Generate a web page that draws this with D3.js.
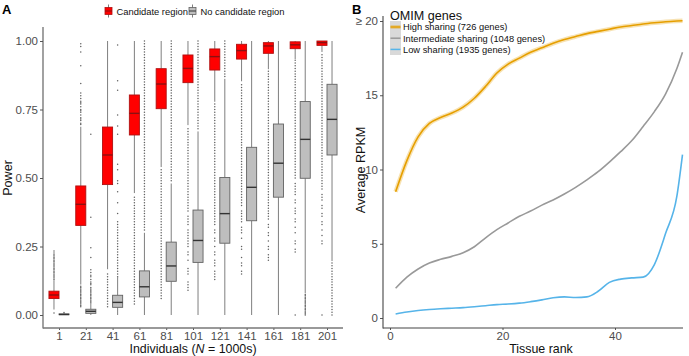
<!DOCTYPE html>
<html><head><meta charset="utf-8">
<script src="https://cdn.jsdelivr.net/npm/d3@7"></script>
<style>
body{margin:0;background:#fff}
svg{display:block;font-family:"Liberation Sans",Arial,Helvetica,sans-serif}
</style></head>
<body><svg id="c" width="689" height="356"></svg>
<script>
// ---------- Panel A data ----------
const groups = ["1","21","41","61","81","101","121","141","161","181","201"];
// [lower whisker, Q1, median, Q3, upper whisker]
const candStats = [
  [0.02,0.060,0.073,0.087,0.127],
  [0.111,0.327,0.404,0.471,0.687],
  [0.167,0.476,0.584,0.686,1.0],
  [0.445,0.657,0.736,0.803,1.0],
  [0.54,0.753,0.843,0.899,1.0],
  [0.693,0.848,0.900,0.949,1.0],
  [0.778,0.894,0.943,0.971,1.0],
  [0.853,0.934,0.965,0.988,1.0],
  [0.897,0.955,0.982,0.994,1.0],
  [0.934,0.972,0.986,0.997,1.0],
  [0.96,0.984,0.994,1.0,1.0]
];
const noCandStats = [
  [0,0.001,0.002,0.004,0.008],
  [0,0.006,0.0135,0.021,0.043],
  [0,0.028,0.046,0.072,0.138],
  [0,0.066,0.103,0.161,0.30],
  [0,0.123,0.179,0.266,0.48],
  [0,0.192,0.272,0.383,0.67],
  [0,0.262,0.37,0.502,0.862],
  [0,0.344,0.466,0.612,1.0],
  [0,0.43,0.554,0.697,1.0],
  [0.079,0.499,0.641,0.779,1.0],
  [0.197,0.584,0.714,0.842,1.0]
];
const candOutliers = [
  [.007,.13,.135,.14,.145,.15,.155,.16,.165,.17,.175,.18,.185,.19,.195,.2,.205,.21,.215,.22,.226,.234],
  [.03,.035,.04,.045,.05,.055,.06,.065,.07,.075,.08,.085,.09,.095,.1,.105,.695,.70,.71,.715,.72,.73,.74,.745,.75,.76,.77,.775,.78,.79,.80,.81,.845,.91,.96,.98,.99],
  [.03,.04,.05,.06,.07,.08,.09,.1,.11,.12,.13,.14,.15],
  [.04,.05,.06,.07,.08,.09,.1,.11,.12,.13,.14,.15,.16,.17,.18,.19,.2,.21,.22,.23,.24,.25,.26,.27,.28,.29,.3,.31,.32,.33,.34,.35,.36,.37,.38,.39,.4,.41,.42,.43],
  [.06,.07,.08,.09,.1,.11,.12,.13,.14,.15,.16,.17,.18,.19,.2,.21,.22,.23,.24,.25,.26,.27,.28,.29,.3,.31,.32,.33,.34,.35,.36,.37,.38,.39,.4,.41,.42,.43,.44,.45,.46,.47,.48,.49,.5,.51,.52,.53],
  [.09,.1,.11,.12,.15,.16,.17,.2,.22,.23,.25,.26,.27,.28,.29,.3,.31,.33,.34,.35,.36,.38,.39,.4,.41,.42,.43,.44,.45,.46,.47,.48,.49,.5,.51,.52,.53,.54,.55,.56,.57,.58,.59,.6,.61,.62,.63,.64,.65,.66,.67,.68],
  [.13,.14,.15,.16,.18,.19,.2,.22,.23,.25,.27,.28,.3,.31,.33,.34,.35,.36,.37,.38,.39,.4,.41,.42,.43,.44,.45,.46,.47,.48,.49,.5,.51,.52,.53,.54,.55,.56,.57,.58,.59,.6,.61,.62,.63,.64,.65,.66,.67,.68,.69,.7,.71,.72,.73,.74,.75,.76,.77],
  [.15,.16,.18,.19,.21,.24,.25,.28,.3,.31,.32,.34,.35,.36,.37,.38,.4,.41,.42,.43,.44,.45,.46,.47,.48,.49,.5,.51,.52,.53,.54,.55,.56,.57,.58,.59,.6,.61,.62,.63,.64,.65,.66,.67,.68,.69,.7,.71,.72,.73,.74,.75,.76,.77,.78,.79,.8,.81,.82,.83,.84],
  [.2,.21,.22,.24,.25,.27,.29,.3,.32,.33,.35,.36,.37,.38,.39,.4,.41,.42,.43,.44,.45,.46,.47,.48,.49,.5,.51,.52,.53,.54,.55,.56,.57,.58,.59,.6,.61,.62,.63,.64,.65,.66,.67,.68,.69,.7,.71,.72,.73,.74,.75,.76,.77,.78,.79,.8,.81,.82,.83,.84,.85,.86,.87,.88,.89],
  [0,.23,.24,.26,.27,.3,.32,.34,.35,.37,.38,.39,.41,.42,.44,.45,.46,.47,.48,.5,.51,.52,.53,.54,.55,.56,.57,.58,.59,.6,.61,.62,.63,.64,.65,.66,.67,.68,.69,.7,.71,.72,.73,.74,.75,.76,.77,.78,.79,.8,.81,.82,.83,.84,.85,.86,.87,.88,.89,.9,.91,.92,.93],
  [0,.26,.27,.29,.31,.33,.34,.36,.37,.39,.4,.42,.43,.44,.46,.47,.48,.49,.5,.51,.52,.53,.54,.55,.56,.57,.58,.59,.6,.61,.62,.63,.64,.65,.66,.67,.68,.69,.7,.71,.72,.73,.74,.75,.76,.77,.78,.79,.8,.81,.82,.83,.84,.85,.86,.87,.88,.89,.9,.91,.92,.93,.94,.95]
];
const noCandOutliers = [
  [.009],
  [.045,.05,.055,.06,.065,.07,.075,.08,.085,.09,.095,.1,.11,.115,.12,.13,.14,.145,.155,.165,.21,.245,.357,.66],
  [.14,.15,.16,.17,.18,.19,.2,.21,.22,.23,.24,.25,.26,.27,.28,.29,.3,.31,.32,.33,.34,.37,.41,.45,.48,.49,.53,.55,.66,.69,.73,.82,.855,.985],
  [.31,.32,.33,.34,.35,.36,.37,.38,.39,.4,.41,.42,.43,.44,.45,.46,.47,.48,.49,.5,.51,.52,.53,.54,.55,.56,.57,.58,.59,.6,.61,.62,.63,.64,.65,.66,.67,.68,.69,.7,.71,.72,.73,.74,.75,.76,.77,.78,.79,.8,.81,.82,.83,.84,.85,.86,.87,.88,.89,.9,.91,.92,.93,.94,.95,.96,.97,.98,.99,1],
  [.49,.5,.51,.52,.53,.54,.55,.56,.57,.58,.59,.6,.61,.62,.63,.64,.65,.66,.67,.68,.69,.7,.71,.72,.73,.74,.75,.76,.77,.78,.79,.8,.81,.82,.83,.84,.85,.86,.87,.88,.89,.9,.91,.92,.93,.94,.95,.96,.97,.98,.99,1],
  [.68,.69,.7,.71,.72,.73,.74,.75,.76,.77,.78,.79,.8,.81,.82,.83,.84,.85,.86,.87,.88,.89,.9,.91,.92,.93,.94,.95,.96,.97,.98,.99,1],
  [.87,.88,.89,.9,.91,.92,.93,.94,.95,.96,.97,.98,.99,1],
  [],
  [],
  [0,.005,.01,.015,.02,.025,.03,.035,.04,.045,.05,.055,.06,.065,.07,.075],
  [0,.01,.02,.03,.04,.05,.06,.07,.08,.09,.1,.11,.12,.13,.14,.15,.16,.17,.18,.19]
];
const powerTicks = [0,0.25,0.5,0.75,1];
const seriesA = ["Candidate region","No candidate region"];

// ---------- Panel B data ----------
const ranks = [1,3,5,7,9,11,13,15,17,19,21,23,25,27,29,31,33,35,37,39,41,43,45,47,49,51,52];
const highSharing = [8.5,10.6,12.2,13.1,13.5,13.8,14.2,14.8,15.6,16.5,17.1,17.5,17.9,18.2,18.5,18.75,18.95,19.15,19.3,19.45,19.6,19.7,19.8,19.88,19.95,20.0,20.02];
const intermediateSharing = [2.0,2.75,3.3,3.7,3.95,4.15,4.4,4.8,5.4,5.95,6.4,6.85,7.2,7.6,7.95,8.35,8.8,9.3,9.85,10.5,11.2,11.95,12.9,13.9,15.1,16.8,17.9];
const lowSharing = [0.27,0.4,0.5,0.57,0.62,0.66,0.7,0.76,0.83,0.9,0.94,1.0,1.1,1.22,1.36,1.42,1.38,1.42,1.8,2.4,2.62,2.7,2.75,3.6,5.7,8.2,11.0];
const seriesB = ["High sharing (726 genes)","Intermediate sharing (1048 genes)","Low sharing (1935 genes)"];
const rpkmTicks = [0,5,10,15,20];
const rankTicks = [0,20,40];

// ---------- drawing ----------
const svg = d3.select("#c");
const tickCol = "#4d4d4d";
const font = "'Liberation Sans',Arial,Helvetica,sans-serif";

// ===== Panel A =====
const A = {l:43, r:343, t:27, b:328};
const xA = d3.scalePoint().domain(groups).range([59,327]);
const step = xA.step();
const bw = step*0.375, off = step*0.1875;
const yA = d3.scaleLinear().domain([0,1]).range([315,41]);
const gA = svg.append("g");

const boxStyle = [
  {fill:"#ff0000", stroke:"#b01010", whisk:"#7f7f7f", med:"#8b1010"},
  {fill:"#bebebe", stroke:"#626262", whisk:"#7f7f7f", med:"#333333"}
];
const statsSets = [candStats, noCandStats];
const outSets = [candOutliers, noCandOutliers];

statsSets.forEach((stats, si) => {
  const st = boxStyle[si];
  const dx = si===0 ? -off : off;
  const g = gA.append("g");
  groups.forEach((grp, gi) => {
    const cx = xA(grp)+dx;
    g.selectAll(null).data(outSets[si][gi]).enter().append("circle")
      .attr("cx", cx).attr("cy", d=>yA(d)).attr("r",0.75)
      .attr("fill","#3a3a3a").attr("opacity",0.8);
  });
  const bx = g.selectAll(null).data(stats).enter().append("g")
    .attr("transform",(d,i)=>`translate(${xA(groups[i])+dx},0)`);
  bx.append("line").attr("x1",0).attr("x2",0)
    .attr("y1",d=>yA(d[0])).attr("y2",d=>yA(d[1]))
    .attr("stroke",st.whisk).attr("stroke-width",1);
  bx.append("line").attr("x1",0).attr("x2",0)
    .attr("y1",d=>yA(d[3])).attr("y2",d=>yA(d[4]))
    .attr("stroke",st.whisk).attr("stroke-width",1);
  bx.append("rect").attr("x",-bw/2).attr("width",bw)
    .attr("y",d=>yA(d[3])).attr("height",d=>Math.max(0.8,yA(d[1])-yA(d[3])))
    .attr("fill",st.fill).attr("stroke",st.stroke).attr("stroke-width",0.9);
  bx.append("line").attr("x1",-bw/2).attr("x2",bw/2)
    .attr("y1",d=>yA(d[2])).attr("y2",d=>yA(d[2]))
    .attr("stroke",st.med).attr("stroke-width",1.4);
});

// axes A
const yAxisA = gA.append("g").attr("transform",`translate(${A.l},0)`)
  .call(d3.axisLeft(yA).tickValues(powerTicks).tickFormat(d3.format(".2f")).tickSize(3).tickPadding(2));
yAxisA.select(".domain").remove();
yAxisA.selectAll(".tick line").attr("stroke","#555");
yAxisA.selectAll("text").attr("font-size",11.5).attr("fill",tickCol).attr("font-family",font);
gA.append("line").attr("x1",A.l).attr("x2",A.l).attr("y1",A.t).attr("y2",A.b+0.5).attr("stroke","#555").attr("stroke-width",1.1);

const xAxisA = gA.append("g").attr("transform",`translate(0,${A.b})`)
  .call(d3.axisBottom(xA).tickSize(2).tickPadding(1.5));
xAxisA.select(".domain").remove();
xAxisA.selectAll(".tick line").attr("stroke","#555");
xAxisA.selectAll("text").attr("font-size",11.5).attr("fill",tickCol).attr("font-family",font);
gA.append("line").attr("x1",A.l).attr("x2",A.r).attr("y1",A.b).attr("y2",A.b).attr("stroke","#777").attr("stroke-width",1.3);

gA.append("text").attr("transform","translate(12,178) rotate(-90)").attr("text-anchor","middle")
  .attr("font-size",12.6).attr("fill","#111").text("Power");
const xt = gA.append("text").attr("x",193).attr("y",352.5).attr("text-anchor","middle")
  .attr("font-size",12.4).attr("fill","#111");
xt.append("tspan").text("Individuals (");
xt.append("tspan").attr("font-style","italic").text("N");
xt.append("tspan").text(" = 1000s)");

// legend A
const legA = gA.append("g");
const legItems = [
  {x:105, label:seriesA[0], st:boxStyle[0]},
  {x:189, label:seriesA[1], st:boxStyle[1]}
];
legItems.forEach(it=>{
  const g = legA.append("g").attr("transform",`translate(${it.x},0)`);
  g.append("line").attr("x1",3.5).attr("x2",3.5).attr("y1",4.5).attr("y2",17.5).attr("stroke",it.st.whisk);
  g.append("rect").attr("x",0).attr("y",7.5).attr("width",7).attr("height",7)
    .attr("fill",it.st.fill).attr("stroke",it.st.stroke).attr("stroke-width",0.8);
  g.append("line").attr("x1",0).attr("x2",7).attr("y1",11).attr("y2",11).attr("stroke",it.st.med).attr("stroke-width",1);
  g.append("text").attr("x",11.5).attr("y",14.5).attr("font-size",9.4).attr("fill","#111").text(it.label);
});

gA.append("text").attr("x",2).attr("y",14).attr("font-size",13).attr("font-weight","bold").attr("fill","#000").text("A");

// ===== Panel B =====
const B = {l:383, r:683, t:16, b:328};
const xB = d3.scaleLinear().domain([0,40]).range([390,615]);
const yB = d3.scaleLinear().domain([0,20]).range([318,21]);
const gB = svg.append("g");
const colors = ["#E69F00","#999999","#56B4E9"];
const seriesVals = [highSharing, intermediateSharing, lowSharing];
const line = d3.line().x((d,i)=>xB(ranks[i])).y(d=>yB(d)).curve(d3.curveMonotoneX);

gB.append("path").attr("d",line(highSharing)).attr("fill","none")
  .attr("stroke","#E69F00").attr("stroke-opacity",0.3).attr("stroke-width",4.5);
seriesVals.forEach((vals,i)=>{
  gB.append("path").attr("d",line(vals)).attr("fill","none")
    .attr("stroke",colors[i]).attr("stroke-width",1.6);
});

const yAxisB = gB.append("g").attr("transform",`translate(${B.l},0)`)
  .call(d3.axisLeft(yB).tickValues(rpkmTicks).tickFormat(d=> d===20 ? "\u2265 20" : d).tickSize(3).tickPadding(2));
yAxisB.select(".domain").remove();
yAxisB.selectAll(".tick line").attr("stroke","#555");
yAxisB.selectAll("text").attr("font-size",11.5).attr("fill",tickCol).attr("font-family",font);
gB.append("line").attr("x1",B.l).attr("x2",B.l).attr("y1",B.t).attr("y2",B.b+0.5).attr("stroke","#444").attr("stroke-width",1.1);

const xAxisB = gB.append("g").attr("transform",`translate(0,${B.b})`)
  .call(d3.axisBottom(xB).tickValues(rankTicks).tickSize(2).tickPadding(1.5));
xAxisB.select(".domain").remove();
xAxisB.selectAll(".tick line").attr("stroke","#555");
xAxisB.selectAll("text").attr("font-size",11.5).attr("fill",tickCol).attr("font-family",font);
gB.append("line").attr("x1",B.l).attr("x2",B.r).attr("y1",B.b).attr("y2",B.b).attr("stroke","#444").attr("stroke-width",1.1);

gB.append("text").attr("transform","translate(365,170) rotate(-90)").attr("text-anchor","middle")
  .attr("font-size",12.6).attr("fill","#111").text("Average RPKM");
gB.append("text").attr("x",541).attr("y",352.5).attr("text-anchor","middle")
  .attr("font-size",12.4).attr("fill","#111").text("Tissue rank");

// legend B
const legB = gB.append("g");
legB.append("text").attr("x",390).attr("y",19.5).attr("font-size",12.6).attr("fill","#111").text("OMIM genes");
legB.append("rect").attr("x",390).attr("y",21).attr("width",11).attr("height",34).attr("fill","#d9d9d9");
seriesB.forEach((s,i)=>{
  const yy = 27 + i*11.2;
  if(i===0) legB.append("line").attr("x1",390.5).attr("x2",400.5).attr("y1",yy).attr("y2",yy)
     .attr("stroke",colors[0]).attr("stroke-opacity",0.3).attr("stroke-width",4);
  legB.append("line").attr("x1",390.5).attr("x2",400.5).attr("y1",yy).attr("y2",yy)
    .attr("stroke",colors[i]).attr("stroke-width",1.5);
  legB.append("text").attr("x",403).attr("y",yy+3.4).attr("font-size",9.3).attr("fill","#111").text(s);
});

gB.append("text").attr("x",352).attr("y",14).attr("font-size",13).attr("font-weight","bold").attr("fill","#000").text("B");
</script>
</body></html>
